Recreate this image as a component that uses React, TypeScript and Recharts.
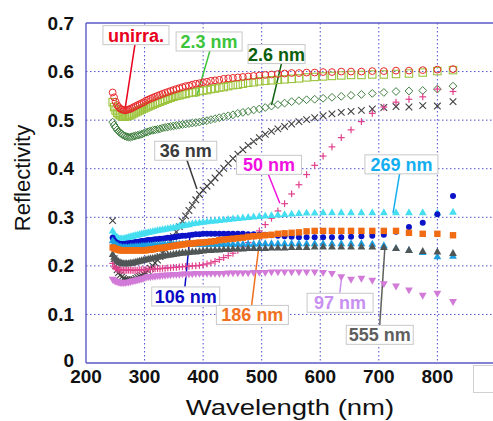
import React from 'react';
import {
  CartesianGrid,
  ReferenceDot,
  ReferenceLine,
  Scatter,
  ScatterChart,
  XAxis,
  YAxis,
} from 'recharts';

// wavelength samples (nm), roughly even steps in photon energy
const wavelength = [
  245.5, 248.0, 250.5, 253.1, 255.7, 258.3, 261.1, 263.8, 266.7, 269.6,
  272.5, 275.6, 278.7, 281.8, 285.1, 288.4, 291.8, 295.2, 298.8, 302.4,
  306.2, 310.0, 313.9, 317.9, 322.1, 326.3, 330.7, 335.1, 339.7, 344.4,
  349.3, 354.3, 359.4, 364.7, 370.1, 375.8, 381.5, 387.5, 393.7, 400.0,
  406.6, 413.3, 420.3, 427.6, 435.1, 442.9, 450.9, 459.3, 467.9, 476.9,
  486.3, 496.0, 506.1, 516.7, 527.7, 539.1, 551.1, 563.6, 576.7, 590.5,
  604.9, 620.0, 635.9, 652.6, 670.3, 688.9, 708.6, 729.4, 751.5, 775.0,
  800.0, 826.7,
];

const unirra = [
  0.557, 0.547, 0.538, 0.531, 0.527, 0.524, 0.522, 0.521, 0.52, 0.521,
  0.522, 0.523, 0.525, 0.527, 0.529, 0.531, 0.533, 0.535, 0.537, 0.54,
  0.542, 0.544, 0.546, 0.548, 0.55, 0.552, 0.554, 0.556, 0.558, 0.56,
  0.562, 0.564, 0.566, 0.568, 0.57, 0.571, 0.573, 0.575, 0.576, 0.578,
  0.579, 0.581, 0.582, 0.583, 0.585, 0.586, 0.587, 0.588, 0.589, 0.59,
  0.591, 0.592, 0.593, 0.594, 0.595, 0.596, 0.597, 0.597, 0.598, 0.598,
  0.599, 0.599, 0.6, 0.6, 0.6, 0.601, 0.601, 0.602, 0.602, 0.603,
  0.604, 0.605,
];

const nm2_3 = [
  0.537, 0.527, 0.52, 0.515, 0.512, 0.51, 0.508, 0.507, 0.507, 0.508,
  0.509, 0.51, 0.512, 0.514, 0.516, 0.518, 0.52, 0.522, 0.524, 0.526,
  0.528, 0.53, 0.532, 0.534, 0.536, 0.538, 0.54, 0.542, 0.544, 0.546,
  0.548, 0.55, 0.551, 0.553, 0.554, 0.556, 0.557, 0.558, 0.56, 0.561,
  0.562, 0.564, 0.565, 0.567, 0.568, 0.57, 0.572, 0.573, 0.575, 0.577,
  0.578, 0.58, 0.581, 0.582, 0.583, 0.584, 0.585, 0.586, 0.588, 0.589,
  0.59, 0.591, 0.592, 0.593, 0.593, 0.594, 0.594, 0.595, 0.596, 0.598,
  0.601, 0.603,
];

const nm2_6 = [
  0.496, 0.49, 0.485, 0.48, 0.477, 0.474, 0.471, 0.469, 0.467, 0.466,
  0.465, 0.465, 0.466, 0.467, 0.468, 0.469, 0.47, 0.471, 0.473, 0.475,
  0.476, 0.478, 0.479, 0.48, 0.481, 0.482, 0.484, 0.485, 0.486, 0.487,
  0.488, 0.489, 0.49, 0.491, 0.492, 0.493, 0.494, 0.495, 0.496, 0.498,
  0.499, 0.501, 0.503, 0.505, 0.507, 0.509, 0.511, 0.514, 0.516, 0.518,
  0.521, 0.523, 0.526, 0.529, 0.532, 0.535, 0.538, 0.54, 0.542, 0.543,
  0.545, 0.547, 0.549, 0.551, 0.553, 0.555, 0.557, 0.559, 0.56, 0.561,
  0.564, 0.57,
];

const nm36 = [
  0.293, 0.215, 0.2, 0.192, 0.186, 0.181, 0.177, 0.174, 0.172, 0.171,
  0.17, 0.17, 0.171, 0.172, 0.174, 0.176, 0.178, 0.18, 0.183, 0.186,
  0.19, 0.195, 0.2, 0.206, 0.212, 0.219, 0.226, 0.234, 0.242, 0.251,
  0.26, 0.27, 0.281, 0.292, 0.303, 0.314, 0.325, 0.336, 0.347, 0.356,
  0.364, 0.372, 0.381, 0.391, 0.401, 0.411, 0.421, 0.43, 0.439, 0.448,
  0.456, 0.464, 0.471, 0.477, 0.482, 0.487, 0.492, 0.497, 0.501, 0.505,
  0.509, 0.513, 0.516, 0.518, 0.52, 0.523, 0.526, 0.528, 0.527, 0.53,
  0.529, 0.538,
];

const nm50 = [
  0.205, 0.198, 0.195, 0.193, 0.192, 0.192, 0.191, 0.191, 0.191, 0.191,
  0.191, 0.191, 0.191, 0.191, 0.191, 0.191, 0.192, 0.192, 0.192, 0.192,
  0.193, 0.193, 0.193, 0.194, 0.194, 0.194, 0.195, 0.195, 0.196, 0.196,
  0.197, 0.197, 0.198, 0.198, 0.199, 0.199, 0.2, 0.2, 0.201, 0.202,
  0.204, 0.206, 0.209, 0.213, 0.217, 0.221, 0.226, 0.232, 0.239, 0.248,
  0.26, 0.272, 0.285, 0.298, 0.313, 0.328, 0.348, 0.367, 0.388, 0.407,
  0.426, 0.445, 0.464, 0.48, 0.497, 0.514, 0.527, 0.537, 0.543, 0.548,
  0.564, 0.559,
];

const nm269 = [
  0.272, 0.266, 0.262, 0.259, 0.257, 0.256, 0.256, 0.256, 0.257, 0.258,
  0.259, 0.26, 0.261, 0.262, 0.263, 0.264, 0.265, 0.266, 0.267, 0.268,
  0.269, 0.27, 0.271, 0.272, 0.273, 0.274, 0.275, 0.276, 0.277, 0.278,
  0.279, 0.28, 0.282, 0.283, 0.284, 0.285, 0.287, 0.288, 0.289, 0.29,
  0.291, 0.292, 0.293, 0.294, 0.295, 0.296, 0.297, 0.298, 0.299, 0.3,
  0.301, 0.302, 0.303, 0.304, 0.305, 0.306, 0.307, 0.308, 0.309, 0.309,
  0.31, 0.31, 0.31, 0.31, 0.31, 0.31, 0.31, 0.31, 0.31, 0.31,
  0.309, 0.311,
];

const nm106 = [
  0.258, 0.252, 0.249, 0.247, 0.246, 0.245, 0.245, 0.245, 0.245, 0.246,
  0.246, 0.247, 0.247, 0.248, 0.249, 0.249, 0.25, 0.251, 0.251, 0.252,
  0.253, 0.253, 0.254, 0.255, 0.255, 0.256, 0.256, 0.257, 0.258, 0.258,
  0.259, 0.26, 0.261, 0.262, 0.262, 0.263, 0.264, 0.265, 0.265, 0.266,
  0.266, 0.266, 0.266, 0.266, 0.266, 0.266, 0.266, 0.266, 0.266, 0.265,
  0.265, 0.264, 0.264, 0.263, 0.262, 0.261, 0.26, 0.259, 0.259, 0.259,
  0.259, 0.259, 0.259, 0.26, 0.261, 0.262, 0.264, 0.27, 0.28, 0.289,
  0.306, 0.344,
];

// unlabelled light-blue series
const lightBlue = [
  0.252, 0.247, 0.244, 0.242, 0.24, 0.239, 0.238, 0.238, 0.238, 0.238,
  0.238, 0.239, 0.239, 0.239, 0.24, 0.24, 0.24, 0.241, 0.241, 0.241,
  0.242, 0.242, 0.242, 0.243, 0.243, 0.243, 0.244, 0.244, 0.244, 0.244,
  0.245, 0.245, 0.245, 0.245, 0.245, 0.245, 0.245, 0.245, 0.245, 0.245,
  0.245, 0.245, 0.245, 0.245, 0.245, 0.245, 0.245, 0.245, 0.245, 0.245,
  0.245, 0.246, 0.246, 0.246, 0.246, 0.246, 0.246, 0.246, 0.246, 0.246,
  0.246, 0.246, 0.246, 0.246, 0.246, 0.245, 0.242, 0.236, 0.232, 0.228,
  0.219, 0.22,
];

const nm555 = [
  0.224, 0.218, 0.214, 0.211, 0.209, 0.207, 0.206, 0.205, 0.205, 0.205,
  0.205, 0.206, 0.206, 0.207, 0.208, 0.209, 0.21, 0.211, 0.212, 0.213,
  0.214, 0.215, 0.216, 0.217, 0.218, 0.219, 0.22, 0.221, 0.222, 0.223,
  0.224, 0.225, 0.226, 0.227, 0.227, 0.228, 0.229, 0.229, 0.23, 0.231,
  0.232, 0.232, 0.233, 0.233, 0.234, 0.234, 0.235, 0.235, 0.235, 0.236,
  0.236, 0.236, 0.236, 0.237, 0.237, 0.237, 0.238, 0.238, 0.238, 0.239,
  0.239, 0.239, 0.239, 0.239, 0.239, 0.239, 0.238, 0.236, 0.232, 0.23,
  0.229, 0.226,
];

const nm186 = [
  0.238, 0.236, 0.235, 0.234, 0.233, 0.232, 0.232, 0.232, 0.232, 0.232,
  0.232, 0.232, 0.232, 0.232, 0.232, 0.232, 0.232, 0.232, 0.232, 0.232,
  0.233, 0.233, 0.234, 0.235, 0.236, 0.237, 0.237, 0.238, 0.239, 0.24,
  0.241, 0.242, 0.243, 0.244, 0.245, 0.246, 0.246, 0.247, 0.248, 0.248,
  0.249, 0.25, 0.251, 0.253, 0.254, 0.255, 0.256, 0.257, 0.258, 0.26,
  0.261, 0.262, 0.263, 0.264, 0.266, 0.267, 0.268, 0.269, 0.271, 0.272,
  0.272, 0.272, 0.272, 0.272, 0.272, 0.272, 0.272, 0.272, 0.268, 0.266,
  0.266, 0.263,
];

const nm97 = [
  0.172, 0.17, 0.168, 0.167, 0.166, 0.165, 0.165, 0.165, 0.165, 0.166,
  0.166, 0.167, 0.168, 0.169, 0.17, 0.171, 0.172, 0.173, 0.174, 0.176,
  0.177, 0.177, 0.178, 0.178, 0.179, 0.179, 0.18, 0.18, 0.181, 0.181,
  0.182, 0.182, 0.182, 0.183, 0.183, 0.183, 0.183, 0.184, 0.184, 0.184,
  0.184, 0.184, 0.184, 0.184, 0.184, 0.185, 0.185, 0.185, 0.185, 0.185,
  0.186, 0.186, 0.186, 0.187, 0.187, 0.187, 0.187, 0.187, 0.187, 0.187,
  0.186, 0.184, 0.177, 0.172, 0.174, 0.17, 0.163, 0.158, 0.15, 0.139,
  0.143, 0.126,
];

const xTicks = [200, 300, 400, 500, 600, 700, 800];
const yTicks = [0, 0.1, 0.2, 0.3, 0.4, 0.5, 0.6, 0.7];

type Kind =
  | 'circleOpen'
  | 'squareOpen'
  | 'diamondOpen'
  | 'x'
  | 'plus'
  | 'triUp'
  | 'dot'
  | 'square'
  | 'triDown';

// drawing order: first is bottom
const series: { name: string; values: number[]; kind: Kind; color: string }[] = [
  { name: '2.3 nm', values: nm2_3, kind: 'squareOpen', color: '#9cc43c' },
  { name: 'unirra.', values: unirra, kind: 'circleOpen', color: '#e8282a' },
  { name: '2.6 nm', values: nm2_6, kind: 'diamondOpen', color: '#3f7f3f' },
  { name: '36 nm', values: nm36, kind: 'x', color: '#404040' },
  { name: '50 nm', values: nm50, kind: 'plus', color: '#e0408c' },
  { name: '269 nm', values: nm269, kind: 'triUp', color: '#44def0' },
  { name: '106 nm', values: nm106, kind: 'dot', color: '#0c12c8' },
  { name: 'other', values: lightBlue, kind: 'triUp', color: '#1c9fe0' },
  { name: '555 nm', values: nm555, kind: 'triUp', color: '#505656' },
  { name: '186 nm', values: nm186, kind: 'square', color: '#f06b12' },
  { name: '97 nm', values: nm97, kind: 'triDown', color: '#d27ad8' },
];

// callout boxes: box centre and leader line, in data units
const notes = [
  { text: 'unirra.', color: '#e8001c', x: 285.3, y: 0.675, w: 66, from: [283.6, 0.656], to: [266.5, 0.521] },
  { text: '2.3 nm', color: '#3cc43c', x: 410.2, y: 0.662, w: 66, from: [411.6, 0.643], to: [388.9, 0.548] },
  { text: '2.6 nm', color: '#0b5e0b', x: 525.4, y: 0.636, w: 57, from: [533.9, 0.617], to: [516.8, 0.531] },
  { text: '36 nm', color: '#3a3a3a', x: 370.3, y: 0.437, w: 62, from: [372.3, 0.418], to: [389.4, 0.358] },
  { text: '50 nm', color: '#f010e0', x: 512.6, y: 0.408, w: 65, from: [510.5, 0.391], to: [531.0, 0.329] },
  { text: '269 nm', color: '#14aef0', x: 738.6, y: 0.409, w: 73, from: [735.7, 0.391], to: [724.3, 0.308] },
  { text: '106 nm', color: '#0a0ac4', x: 370.3, y: 0.137, w: 68, from: [368.9, 0.157], to: [377.4, 0.26] },
  { text: '186 nm', color: '#f07020', x: 484.1, y: 0.099, w: 72, from: [482.7, 0.117], to: [496.9, 0.257] },
  { text: '97 nm', color: '#c890f0', x: 633.9, y: 0.124, w: 66, from: [633.4, 0.145], to: [636.3, 0.174] },
  { text: '555 nm', color: '#5f5f5f', x: 701.6, y: 0.058, w: 67, from: [701.6, 0.078], to: [710.1, 0.233] },
];

const FONT = '"Liberation Sans", Arial, sans-serif';
const AXIS = '#5a5ac8';

function Marker({ cx, cy, kind, color }: { cx: number; cy: number; kind: Kind; color: string }) {
  if (cx == null || cy == null) return null;
  switch (kind) {
    case 'circleOpen':
      return <circle cx={cx} cy={cy} r={3.4} fill="none" stroke={color} strokeWidth={1} />;
    case 'squareOpen':
      return <rect x={cx - 3.7} y={cy - 3.7} width={7.4} height={7.4} fill="none" stroke={color} strokeWidth={1.1} />;
    case 'diamondOpen':
      return (
        <polygon
          points={`${cx},${cy - 3.9} ${cx + 3.9},${cy} ${cx},${cy + 3.9} ${cx - 3.9},${cy}`}
          fill="none"
          stroke={color}
          strokeWidth={1}
        />
      );
    case 'x':
      return (
        <g stroke={color} strokeWidth={1.1}>
          <line x1={cx - 3.3} y1={cy - 3.3} x2={cx + 3.3} y2={cy + 3.3} />
          <line x1={cx - 3.3} y1={cy + 3.3} x2={cx + 3.3} y2={cy - 3.3} />
        </g>
      );
    case 'plus':
      return (
        <g stroke={color} strokeWidth={1.2}>
          <line x1={cx - 3.4} y1={cy} x2={cx + 3.4} y2={cy} />
          <line x1={cx} y1={cy - 3.4} x2={cx} y2={cy + 3.4} />
        </g>
      );
    case 'triUp':
      return <polygon points={`${cx},${cy - 4.2} ${cx + 3.9},${cy + 2.7} ${cx - 3.9},${cy + 2.7}`} fill={color} />;
    case 'triDown':
      return <polygon points={`${cx},${cy + 4.2} ${cx + 3.9},${cy - 2.7} ${cx - 3.9},${cy - 2.7}`} fill={color} />;
    case 'dot':
      return <circle cx={cx} cy={cy} r={3} fill={color} />;
    case 'square':
      return <rect x={cx - 3.2} y={cy - 3.2} width={6.4} height={6.4} fill={color} />;
  }
  return null;
}

function XTick({ x, y, payload }: any) {
  return (
    <text x={x} y={y} dy={12} textAnchor="middle" fontFamily={FONT} fontWeight="bold" fontSize={19} fill="#111">
      {payload.value}
    </text>
  );
}

function YTick({ x, y, payload }: any) {
  const v = payload.value as number;
  return (
    <text
      x={x}
      y={y}
      dx={-4}
      dy={v === 0 ? 3.5 : 6.5}
      textAnchor="end"
      fontFamily={FONT}
      fontWeight="bold"
      fontSize={19}
      fill="#111"
    >
      {v === 0 ? '0' : v.toFixed(1)}
    </text>
  );
}

export default function App() {
  const data = series.map((s) => ({
    ...s,
    points: wavelength.map((w, i) => ({ x: w, y: s.values[i] })),
  }));

  return (
    <div
      style={{
        position: 'absolute',
        left: 0,
        top: 0,
        width: 493,
        height: 421,
        overflow: 'hidden',
        background: '#fff',
      }}
    >
      <ScatterChart width={493} height={421} margin={{ top: 23, right: 0, bottom: 0, left: 0 }}>
        <CartesianGrid
          stroke="#4f4fd0"
          strokeDasharray="1.5 2.5"
          verticalValues={[300, 400, 500, 600, 700, 800]}
          horizontalValues={[0.1, 0.2, 0.3, 0.4, 0.5, 0.6]}
        />
        <XAxis
          type="number"
          dataKey="x"
          domain={[200, 895]}
          ticks={xTicks}
          allowDataOverflow
          height={58}
          tickLine={false}
          axisLine={{ stroke: AXIS, strokeWidth: 1.4 }}
          tick={<XTick />}
          interval={0}
        />
        <YAxis
          type="number"
          dataKey="y"
          domain={[0, 0.7]}
          ticks={yTicks}
          allowDataOverflow
          width={86}
          tickLine={false}
          axisLine={{ stroke: AXIS, strokeWidth: 1.4 }}
          tick={<YTick />}
          interval={0}
        />
        <ReferenceLine y={0.7} stroke={AXIS} strokeWidth={1.4} />
        {data.map((s) => (
          <Scatter
            key={s.name}
            name={s.name}
            data={s.points}
            isAnimationActive={false}
            shape={(p: any) => <Marker cx={p.cx} cy={p.cy} kind={s.kind} color={s.color} />}
          />
        ))}
        {notes.map((n) => (
          <ReferenceLine
            key={`l-${n.text}`}
            segment={[
              { x: n.from[0], y: n.from[1] },
              { x: n.to[0], y: n.to[1] },
            ]}
            stroke={n.color}
            strokeWidth={1.5}
          />
        ))}
        {notes.map((n) => (
          <ReferenceDot
            key={`b-${n.text}`}
            x={n.x}
            y={n.y}
            r={0}
            shape={(p: any) => (
              <g>
                <rect
                  x={p.cx - n.w / 2}
                  y={p.cy - 9.5}
                  width={n.w}
                  height={19}
                  fill="#fff"
                  stroke="#c8c8c8"
                  strokeWidth={1}
                />
                <text
                  x={p.cx}
                  y={p.cy + 6.5}
                  textAnchor="middle"
                  fontFamily={FONT}
                  fontWeight="bold"
                  fontSize={18}
                  fill={n.color}
                >
                  {n.text}
                </text>
              </g>
            )}
          />
        ))}
      </ScatterChart>
      <div
        style={{
          position: 'absolute',
          left: 290,
          top: 396,
          transform: 'translateX(-50%) scaleX(1.25)',
          fontFamily: FONT,
          fontSize: 22,
          lineHeight: '24px',
          color: '#111',
          whiteSpace: 'nowrap',
        }}
      >
        Wavelength (nm)
      </div>
      <div
        style={{
          position: 'absolute',
          left: 22.5,
          top: 178,
          transform: 'translate(-50%, -50%) rotate(-90deg)',
          fontFamily: FONT,
          fontSize: 22,
          lineHeight: '24px',
          color: '#111',
          whiteSpace: 'nowrap',
        }}
      >
        Reflectivity
      </div>
      <div
        style={{
          position: 'absolute',
          left: 473,
          top: 365,
          width: 30,
          height: 26,
          border: '1px solid #d0d0d0',
          background: '#fff',
        }}
      />
    </div>
  );
}
